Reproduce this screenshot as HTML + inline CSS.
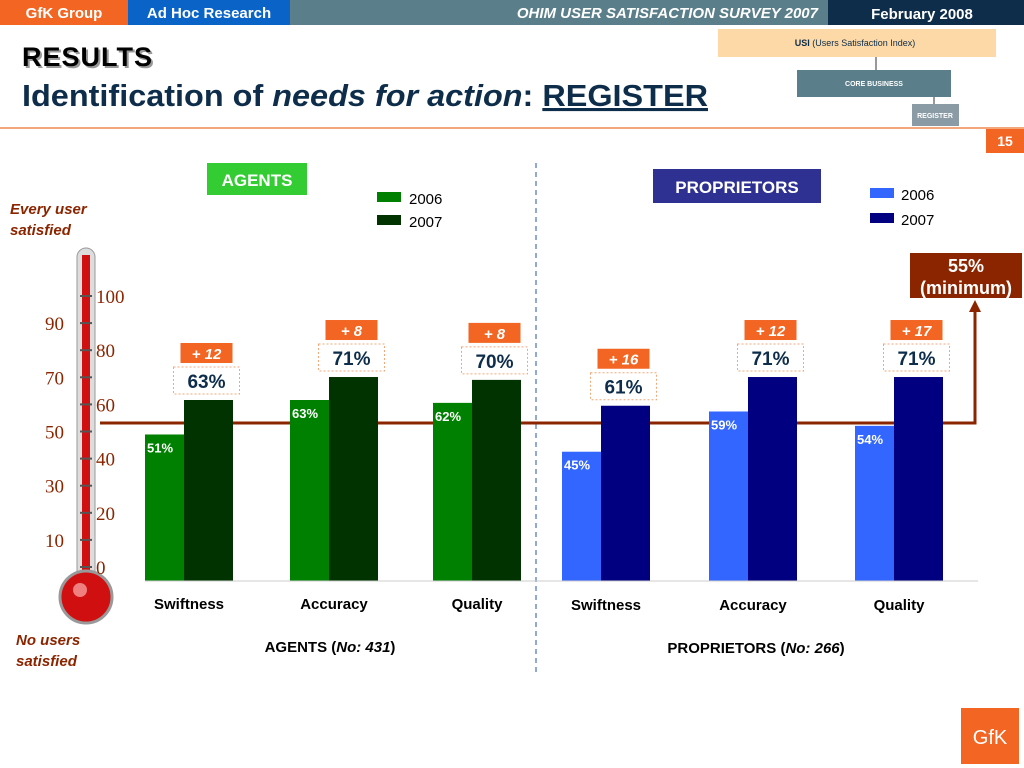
<!DOCTYPE html>
<html><head><meta charset="utf-8"><style>
body{margin:0;width:1024px;height:768px;overflow:hidden;background:#fff;font-family:"Liberation Sans",sans-serif}
svg{display:block}
</style></head><body>
<svg id="c" width="1024" height="768" font-family="Liberation Sans, sans-serif">
<rect x="0" y="0" width="128" height="25" fill="#f26522"/>
<text x="64" y="18" fill="#fff" font-size="15" font-weight="bold" text-anchor="middle">GfK Group</text>
<rect x="128" y="0" width="162" height="25" fill="#0a64c8"/>
<text x="209" y="18" fill="#fff" font-size="15" font-weight="bold" text-anchor="middle">Ad Hoc Research</text>
<rect x="290" y="0" width="538" height="25" fill="#5a7f8a"/>
<text x="818" y="18" fill="#fff" font-size="15" font-weight="bold" font-style="italic" text-anchor="end">OHIM USER SATISFACTION SURVEY 2007</text>
<rect x="828" y="0" width="196" height="25" fill="#0d2d4a"/>
<text x="922" y="19" fill="#fff" font-size="15" font-weight="bold" text-anchor="middle">February  2008</text>
<text x="24" y="68" font-size="27" font-weight="bold" fill="#999" textLength="130">RESULTS</text>
<text x="22" y="66" font-size="27" font-weight="bold" fill="#000" textLength="130">RESULTS</text>
<text x="22" y="106" font-size="31" font-weight="bold" fill="#0d2d4a" textLength="686" lengthAdjust="spacingAndGlyphs">Identification of <tspan font-style="italic">needs for action</tspan>: <tspan text-decoration="underline">REGISTER</tspan></text>
<rect x="718" y="29" width="278" height="28" fill="#fcd9a6"/>
<text x="855" y="46" font-size="9" text-anchor="middle" fill="#0d2d4a"><tspan font-weight="bold">USI</tspan> (Users Satisfaction Index)</text>
<line x1="876" y1="57" x2="876" y2="70" stroke="#333"/>
<rect x="797" y="70" width="154" height="27" fill="#5a7f8a"/>
<text x="874" y="86" font-size="7" font-weight="bold" fill="#fff" text-anchor="middle">CORE BUSINESS</text>
<line x1="934" y1="97" x2="934" y2="104" stroke="#333"/>
<rect x="912" y="104" width="47" height="22" fill="#8a9ba5"/>
<text x="935" y="118" font-size="7" font-weight="bold" fill="#fff" text-anchor="middle">REGISTER</text>
<line x1="0" y1="128" x2="1024" y2="128" stroke="#f4a77a" stroke-width="2"/>
<rect x="986" y="129" width="38" height="24" fill="#f26522"/>
<text x="1005" y="146" font-size="14" font-weight="bold" fill="#fff" text-anchor="middle">15</text>
<line x1="536" y1="163" x2="536" y2="675" stroke="#2255aa" stroke-dasharray="5,4"/>
<rect x="207" y="163" width="100" height="32" fill="#33cc33"/>
<text x="257" y="186" font-size="17" font-weight="bold" fill="#fff" text-anchor="middle">AGENTS</text>
<rect x="653" y="169" width="168" height="34" fill="#2e3192"/>
<text x="737" y="193" font-size="17" font-weight="bold" fill="#fff" text-anchor="middle">PROPRIETORS</text>
<g>
<rect x="377" y="192" width="24" height="10" fill="#008000"/><text x="409" y="204" font-size="15">2006</text>
<rect x="377" y="215" width="24" height="10" fill="#003300"/><text x="409" y="227" font-size="15">2007</text></g>
<g>
<rect x="870" y="188" width="24" height="10" fill="#3366ff"/><text x="901" y="200" font-size="15">2006</text>
<rect x="870" y="213" width="24" height="10" fill="#000080"/><text x="901" y="225" font-size="15">2007</text></g>
<text x="10" y="214" font-size="15" font-weight="bold" font-style="italic" fill="#8b2500">Every user</text>
<text x="10" y="235" font-size="15" font-weight="bold" font-style="italic" fill="#8b2500">satisfied</text>
<text x="16" y="645" font-size="15" font-weight="bold" font-style="italic" fill="#8b2500">No users</text>
<text x="16" y="666" font-size="15" font-weight="bold" font-style="italic" fill="#8b2500">satisfied</text>
<g>
<rect x="77" y="248" width="18" height="340" rx="9" fill="#ddd" stroke="#999"/>
<rect x="82" y="255" width="8" height="330" fill="#d01010"/>
<circle cx="86" cy="597" r="26" fill="#d01010" stroke="#999" stroke-width="3"/>
<circle cx="80" cy="590" r="7" fill="#f08080"/>
</g>
<g id="therm" font-family="Liberation Serif, serif" font-size="19" fill="#8b2500"></g>
<rect x="910" y="253" width="112" height="45" fill="#8b2500"/>
<text x="966" y="272" font-size="18" font-weight="bold" fill="#fff" text-anchor="middle">55%</text>
<text x="966" y="294" font-size="18" font-weight="bold" fill="#fff" text-anchor="middle">(minimum)</text>
<g id="bars"></g>
<line x1="145" y1="581" x2="978" y2="581" stroke="#ccc"/>
<text x="330" y="652" font-size="15" font-weight="bold" text-anchor="middle">AGENTS  (<tspan font-style="italic">No: 431</tspan>)</text>
<text x="756" y="653" font-size="15" font-weight="bold" text-anchor="middle">PROPRIETORS  (<tspan font-style="italic">No: 266</tspan>)</text>
<rect x="961" y="708" width="58" height="56" fill="#f26522"/>
<text x="990" y="744" font-size="20" fill="#fff" text-anchor="middle">GfK</text>
</svg>
<script>
const categories=["Swiftness","Accuracy","Quality","Swiftness","Accuracy","Quality"];
const values2006=[51,63,62,45,59,54];
const values2007=[63,71,70,61,71,71];
const deltaLabels=["+ 12","+ 8","+ 8","+ 16","+ 12","+ 17"];
const minimumValue=55;
const thermTicks=[0,10,20,30,40,50,60,70,80,90,100];
const NS="http://www.w3.org/2000/svg";
const base=581,scale=2.873;
const y=v=>base-v*scale;
const groupX=[145,290,433,562,709,855];
function mk(tag,a,p){const e=document.createElementNS(NS,tag);for(const k in a)e.setAttribute(k,a[k]);(p||document.getElementById('bars')).appendChild(e);return e;}
const th=document.getElementById('therm');
thermTicks.forEach((t,i)=>{const ty=567-i*27.1;
const l=mk('line',{x1:80,y1:ty,x2:92,y2:ty,stroke:'#555','stroke-width':2},th);


const tx=mk('text',{x:i%2?45:96,y:ty+7},th);tx.textContent=t;

});
const ml=mk('path',{d:`M100 ${y(minimumValue)} H975 V310`,fill:'none',stroke:'#8b2500','stroke-width':3});


mk('polygon',{points:'969,312 975,300 981,312',fill:'#8b2500'});
categories.forEach((c,i)=>{
 const x=groupX[i],agent=i<3;
 const c1=agent?'#008000':'#3366ff',c2=agent?'#003300':'#000080';
 const w1=39,w2=49;
 const r1=mk('rect',{x:x,y:y(values2006[i]),width:w1,height:values2006[i]*scale,fill:c1});
 
 
 const r2=mk('rect',{x:x+w1,y:y(values2007[i]),width:w2,height:values2007[i]*scale,fill:c2});
 
 
 const t1=mk('text',{x:x+2,y:y(values2006[i])+18,'font-size':13,'font-weight':'bold',fill:'#fff'});t1.textContent=values2006[i]+'%';
 
 
 const cx=x+w1+w2/2-2;
 const by=y(values2007[i])-8;
 mk('rect',{x:cx-33,y:by-25,width:66,height:27,fill:'#fff',stroke:'#f4a77a','stroke-dasharray':'2,2'});
 const t2=mk('text',{x:cx,y:by-4,'font-size':19,'font-weight':'bold',fill:'#0d2d4a','text-anchor':'middle'});t2.textContent=values2007[i]+'%';
 
 
 const dy=by-30;
 mk('rect',{x:cx-26,y:dy-19,width:52,height:20,fill:'#f26522'});
 const t3=mk('text',{x:cx,y:dy-3,'font-size':15,'font-weight':'bold','font-style':'italic',fill:'#fff','text-anchor':'middle'});t3.textContent=deltaLabels[i];
 
 
 const cl=mk('text',{x:x+44,y:agent?609:610,'font-size':15,'font-weight':'bold','text-anchor':'middle'});cl.textContent=c;
 
 
});
</script>
</body></html>
